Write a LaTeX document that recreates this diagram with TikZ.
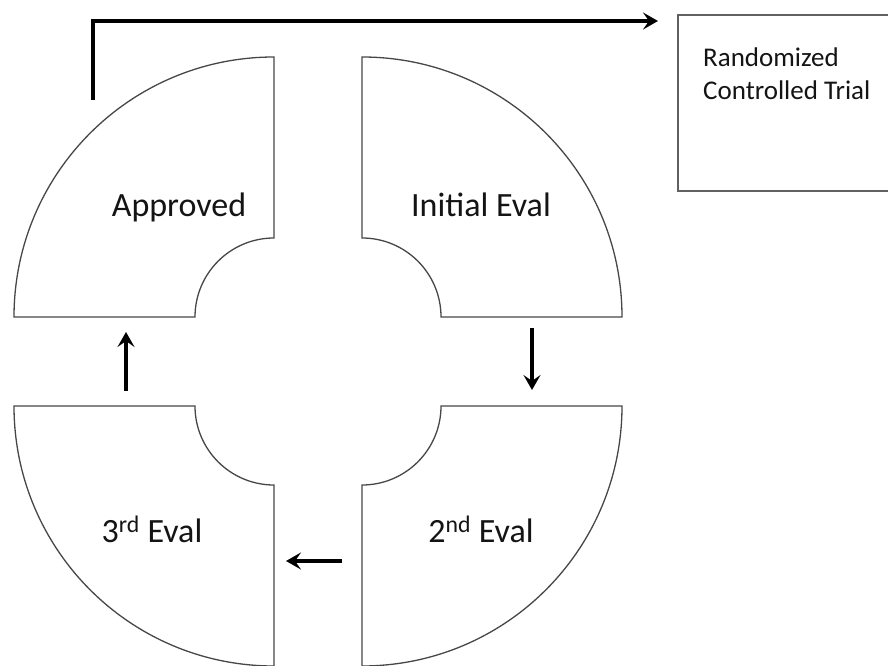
\documentclass[tikz,border=0pt]{standalone}
\usepackage{fontspec}
\setmainfont{Carlito}
\usetikzlibrary{arrows.meta}
\begin{document}
\begin{tikzpicture}[x=1pt,y=1pt,
  quarter/.style={draw=black!72, line width=1.3pt, fill=white, line join=miter},
  flow/.style={line width=3.2pt, -{Stealth[length=15pt,width=17pt,inset=6pt]}},
  lbl/.style={font=\fontsize{34}{40}\selectfont, text=black!92, inner sep=0pt, anchor=base},
  boxstyle/.style={draw=black!62, line width=2pt, fill=white, anchor=south west, inner sep=0pt, minimum width=223pt, minimum height=176pt}]
\useasboundingbox (0,0) rectangle (888,665);
\fill[white] (0,0) rectangle (888,665);
% quarter shapes
\draw[quarter] (274,608) -- (274,427) arc[start angle=90,end angle=180,radius=79] -- (14,348) arc[start angle=180,end angle=90,radius=260] -- cycle;
\draw[quarter] (362,608) -- (362,427) arc[start angle=90,end angle=0,radius=79] -- (622,348) arc[start angle=0,end angle=90,radius=260] -- cycle;
\draw[quarter] (14,259) -- (195,259) arc[start angle=180,end angle=270,radius=79] -- (274,-1) arc[start angle=270,end angle=180,radius=260] -- cycle;
\draw[quarter] (441,259) -- (622,259) arc[start angle=0,end angle=-90,radius=260] -- (362,180) arc[start angle=270,end angle=360,radius=79] -- cycle;
% labels
\node[lbl] (appr) at (179,448) {Approved};
\node[lbl] (init) at (481,448) {Initial Eval};
\node[lbl] (third) at (152,123) {3\textsuperscript{rd} Eval};
\node[lbl] (second) at (481,123) {2\textsuperscript{nd} Eval};
% RCT box
\node[boxstyle] (rctbox) at (677,473) {};
\node[font=\fontsize{27}{33}\selectfont, text=black!92, inner sep=0pt, anchor=base west, align=left] (rct) at (703,565) {Randomized\\Controlled Trial};
% connector coordinates
\coordinate (apprOut) at (93,565);
\coordinate (rctIn) at (658,644);
\coordinate (initOut) at (532,337);
\coordinate (secIn) at (532,275);
\coordinate (secOut) at (342,104);
\coordinate (thirdIn) at (286,104);
\coordinate (thirdOut) at (126,274);
\coordinate (apprIn) at (126,333);
% connectors
\draw[flow] (apprOut) |- (rctIn);
\draw[flow] (initOut) -- (secIn);
\draw[flow] (secOut) -- (thirdIn);
\draw[flow] (thirdOut) -- (apprIn);
\end{tikzpicture}
\end{document}
